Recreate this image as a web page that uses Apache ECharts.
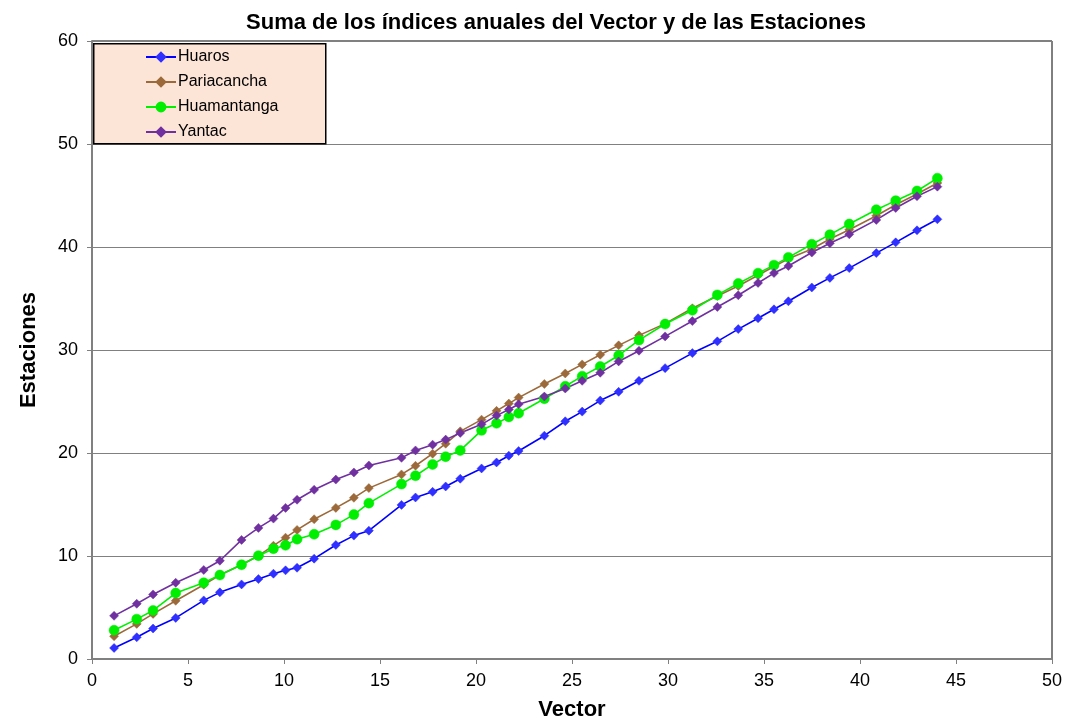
<!DOCTYPE html>
<html>
<head>
<meta charset="utf-8">
<script src="https://cdn.jsdelivr.net/npm/echarts@6/dist/echarts.min.js"></script>
<style>html,body{margin:0;padding:0;background:#fff}#c{width:1066px;height:721px}</style>
</head>
<body>
<div id="c"></div>
<script>
const vector = [1.15,2.33,3.18,4.36,5.82,6.66,7.79,8.67,9.45,10.08,10.68,11.57,12.70,13.64,14.42,16.12,16.85,17.74,18.42,19.18,20.29,21.07,21.71,22.22,23.56,24.65,25.53,26.47,27.43,28.49,29.85,31.27,32.57,33.66,34.69,35.52,36.27,37.49,38.43,39.44,40.85,41.86,42.97,44.03];
const huaros = [1.07,2.11,2.96,3.99,5.69,6.47,7.24,7.76,8.28,8.61,8.86,9.74,11.07,11.98,12.46,14.96,15.68,16.23,16.75,17.5,18.5,19.08,19.74,20.19,21.68,23.08,24.02,25.09,25.94,27.01,28.24,29.7,30.84,32.03,33.08,33.95,34.73,36.07,37.0,37.95,39.41,40.45,41.62,42.69];
const pariacancha = [2.21,3.41,4.38,5.65,7.21,8.15,9.15,10.03,11.0,11.78,12.53,13.57,14.67,15.65,16.59,17.92,18.76,19.93,20.9,22.1,23.24,24.09,24.8,25.38,26.7,27.72,28.6,29.54,30.45,31.42,32.56,34.05,35.25,36.22,37.26,38.11,38.85,39.8,40.77,41.68,43.04,44.1,45.15,46.22];
const huamantanga = [2.79,3.87,4.71,6.40,7.40,8.15,9.15,10.03,10.71,11.04,11.63,12.11,13.02,14.02,15.13,16.98,17.79,18.89,19.64,20.25,22.2,22.88,23.5,23.86,25.27,26.48,27.46,28.4,29.47,30.96,32.52,33.86,35.35,36.46,37.46,38.24,38.99,40.26,41.2,42.23,43.62,44.5,45.44,46.68];
const yantac = [4.19,5.36,6.27,7.40,8.64,9.54,11.56,12.73,13.63,14.67,15.46,16.43,17.42,18.11,18.79,19.53,20.25,20.81,21.3,21.95,22.78,23.63,24.22,24.73,25.48,26.26,27.01,27.79,28.89,29.93,31.32,32.81,34.18,35.32,36.51,37.47,38.16,39.46,40.36,41.24,42.63,43.79,44.93,45.86];
const seriesNames = ['Huaros','Pariacancha','Huamantanga','Yantac'];

const FONT = "'Liberation Sans', Arial, sans-serif";
const pairs = ys => vector.map((x, i) => [x, ys[i]]);
const styles = [
  {line:'#0000FF', fill:'#2F2FFF', symbol:'diamond', size:9},
  {line:'#9C6A3A', fill:'#9C6A3A', symbol:'diamond', size:9},
  {line:'#00F000', fill:'#00EE00', symbol:'circle', size:10},
  {line:'#7030A0', fill:'#7030A0', symbol:'diamond', size:9}
];
const dataSets = [huaros, pariacancha, huamantanga, yantac];

const chart = echarts.init(document.getElementById('c'), null, {renderer:'canvas'});
chart.setOption({
  animation:false,
  backgroundColor:'#fff',
  title:{text:'Suma de los índices anuales del Vector y de las Estaciones', left:551, textAlign:'center', top:7,
    textStyle:{fontFamily:FONT, fontSize:22, fontWeight:'bold', color:'#000'}},
  grid:{left:92, right:14, top:41, bottom:62, show:true, borderColor:'#000', borderWidth:1, backgroundColor:'transparent',
    outerBoundsMode:'none', containLabel:false},
  graphic:[{type:'rect', left:93, top:43, shape:{width:232, height:100}, style:{fill:'#FCE4D6', stroke:'#000', lineWidth:1.5}, z:5}],
  legend:{orient:'vertical', left:140, top:44, itemGap:9, itemWidth:30, itemHeight:11, z:10,
    data:seriesNames, textStyle:{fontFamily:FONT, fontSize:16, color:'#000', padding:[0,0,0,-3]}},
  xAxis:{type:'value', min:0, max:50, interval:5, name:'Vector', nameLocation:'middle', nameGap:40,
    nameTextStyle:{fontFamily:FONT, fontSize:22, fontWeight:'bold', color:'#000'},
    axisLine:{lineStyle:{color:'#808080', width:2}}, axisTick:{length:5, lineStyle:{color:'#808080'}},
    axisLabel:{fontFamily:FONT, fontSize:18, color:'#000', margin:13}, splitLine:{show:false}},
  yAxis:{type:'value', min:0, max:60, interval:10, name:'Estaciones', nameLocation:'middle', nameGap:52, nameRotate:90,
    nameTextStyle:{fontFamily:FONT, fontSize:22, fontWeight:'bold', color:'#000'},
    axisLine:{show:true, lineStyle:{color:'#808080', width:2}}, axisTick:{show:true, length:5, lineStyle:{color:'#808080'}},
    axisLabel:{fontFamily:FONT, fontSize:18, color:'#000', margin:14},
    splitLine:{lineStyle:{color:'#808080', width:1}}},
  series: seriesNames.map((n, i) => ({
    name:n, type:'line', data:pairs(dataSets[i]), symbol:styles[i].symbol, symbolSize:styles[i].size,
    lineStyle:{color:styles[i].line, width:1.6}, itemStyle:{color:styles[i].fill, borderColor:styles[i].fill, borderWidth:0.5},
    color:styles[i].line, emphasis:{disabled:true}
  }))
});
</script>
</body>
</html>
